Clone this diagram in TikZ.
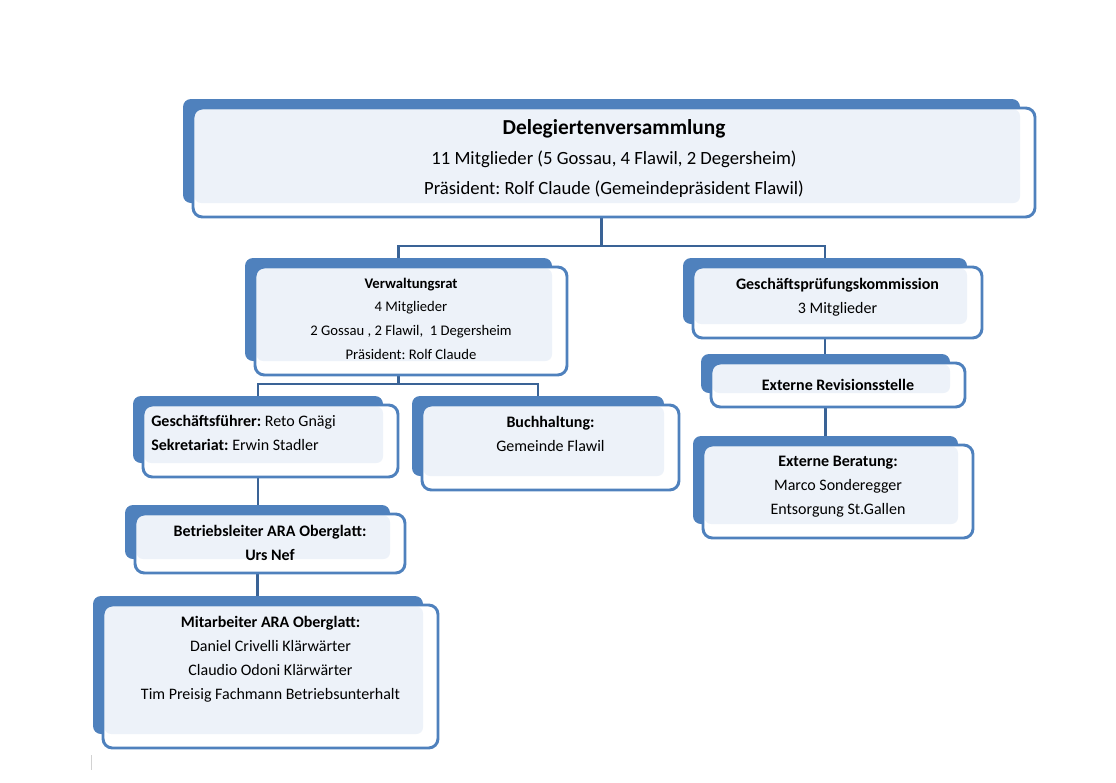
\documentclass[tikz,border=0pt]{standalone}
\usepackage{fontspec}
\setmainfont{Carlito}
\usetikzlibrary{fit,positioning}

\definecolor{boxblue}{RGB}{79,129,189}
\definecolor{paleblue}{RGB}{237,242,249}
\definecolor{linkblue}{RGB}{58,99,150}

\pgfdeclarelayer{back}
\pgfsetlayers{back,main}

\tikzset{
	unitbox/.style={draw=boxblue,line width=2.2pt,fill=white,rounded corners=7pt,
		inner sep=0pt,outer sep=0pt,
		path picture={\fill[paleblue,rounded corners=5pt]
			([shift={(1.5,1.5)}]path picture bounding box.north west)
			rectangle ([shift={(-15,-14)}]path picture bounding box.south east);}},
	backbox/.style={fill=boxblue,rounded corners=6pt,inner sep=0pt,outer sep=0pt},
	unittext/.style={inner sep=0pt,align=center,font=\fontsize{12}{18}\selectfont},
	link/.style={draw=linkblue,line width=2.2pt}
}

% front box and its shadow block behind it
\newcommand{\orgunit}[3]{
	\node[unitbox,fit={(#2) (#3)}] (#1) {};
	\begin{pgfonlayer}{back}
		\node[backbox,fit={([shift={(-10,-9)}]#1.north west) ([shift={(-15,-14)}]#1.south east)}] (#1-back) {};
	\end{pgfonlayer}
}

\begin{document}
\frenchspacing
\begin{tikzpicture}[x=0.75pt,y=-0.75pt]
\useasboundingbox (0,0) rectangle (1116,782);

	\orgunit{dv}{193,108}{1035,217}
	\orgunit{vr}{255,267}{567,375}
	\orgunit{gpk}{693,267}{982,338}
	\orgunit{er}{711,363}{965,407}
	\orgunit{eb}{703,445}{973,538}
	\orgunit{gf}{143,405}{398,477}
	\orgunit{bh}{422,405}{679,490}
	\orgunit{bl}{135,514}{405,573}
	\orgunit{ma}{103,605}{438,748}

	\node[unittext,font=\fontsize{14}{22.5}\selectfont,below=8.5pt of dv.north] (dv-text)
		{{\fontsize{16}{22.5}\selectfont\bfseries Delegiertenversammlung}\\
		11 Mitglieder (5 Gossau, 4 Flawil, 2 Degersheim)\\
		Präsident: Rolf Claude (Gemeindepräsident Flawil)};
	\node[unittext,font=\fontsize{11}{17.8}\selectfont,below=8pt of vr.north] (vr-text)
		{\textbf{Verwaltungsrat}\\ 4 Mitglieder\\ 2 Gossau , 2 Flawil,\ \ 1 Degersheim\\ Präsident: Rolf Claude};
	\node[unittext,below=8pt of gpk.north] (gpk-text)
		{\textbf{Geschäftsprüfungskommission}\\ 3 Mitglieder};
	\node[unittext,below=12pt of er.north] (er-text) {\textbf{Externe Revisionsstelle}};
	\node[unittext,below=8pt of eb.north] (eb-text)
		{\textbf{Externe Beratung:}\\ Marco Sonderegger\\ Entsorgung St.Gallen};
	\node[unittext,align=left,anchor=north west] (gf-text) at ([shift={(8,10)}]gf.north west)
		{\textbf{Geschäftsführer:} Reto Gnägi\\ \textbf{Sekretariat:} Erwin Stadler};
	\node[unittext,below=8pt of bh.north] (bh-text) {\textbf{Buchhaltung:}\\ Gemeinde Flawil};
	\node[unittext,below=8pt of bl.north] (bl-text)
		{\textbf{Betriebsleiter ARA Oberglatt:}\\ \textbf{Urs Nef}};
	\node[unittext,below=8.5pt of ma.north] (ma-text)
		{\textbf{Mitarbeiter ARA Oberglatt:}\\ Daniel Crivelli Klärwärter\\
		Claudio Odoni Klärwärter\\ Tim Preisig Fachmann Betriebsunterhalt};

\begin{pgfonlayer}{back}
	\foreach \to in {vr,gpk}
		\draw[link] (dv-back.south) -- ++(0,43) -| (\to-back.north);
	\foreach \to in {gf,bh}
		\draw[link] (vr-back.south) -- ++(0,23) -| (\to-back.north);
	\draw[link] (gf-back.south) -- (gf-back.south |- bl-back.north);
	\draw[link] (bl-back.south) -- (bl-back.south |- ma-back.north);
	\draw[link] (gpk-back.south) -- (gpk-back.south |- er-back.north);
	\draw[link] (er-back.south) -- (er-back.south |- eb-back.north);
\end{pgfonlayer}

	\draw[gray!35,line width=0.6pt] (91,755) -- (91,770);
\end{tikzpicture}
\end{document}
